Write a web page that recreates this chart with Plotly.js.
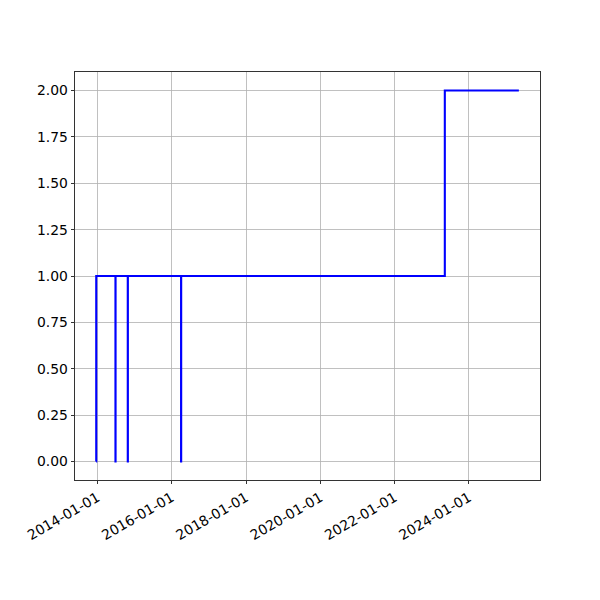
<!DOCTYPE html>
<html>
<head>
<meta charset="utf-8">
<script src="https://cdn.plot.ly/plotly-3.0.1.min.js"></script>
<style>html,body{margin:0;padding:0;background:#fff}#chart{width:600px;height:600px}</style>
</head>
<body>
<div id="chart"></div>
<script>
// Step series (value held until next date)
const dates = [
  '2013-12-19', '2013-12-20',
  '2014-06-27', '2014-06-28',
  '2014-10-26', '2014-10-27',
  '2016-04-02', '2016-04-03',
  '2023-05-09',
  '2025-05-06'
];
const values = [0, 1, 0, 1, 0, 1, 0, 1, 2, 2];
const xTickVals = ['2014-01-01','2016-01-01','2018-01-01','2020-01-01','2022-01-01','2024-01-01'];
const yTickVals = [0, 0.25, 0.5, 0.75, 1, 1.25, 1.5, 1.75, 2];

const trace = {
  x: dates, y: values, type: 'scatter', mode: 'lines',
  line: {shape: 'hv', color: '#0000ff', width: 2.1},
  hoverinfo: 'skip'
};

// 5% padding like matplotlib
const t0 = new Date(dates[0]).getTime(), t1 = new Date(dates[dates.length-1]).getTime();
const pad = (t1 - t0) * 0.05;
const fmt = t => new Date(t).toISOString().slice(0,19).replace('T',' ');

const font = {family: 'DejaVu Sans', size: 13.9, color: '#000'};
const layout = {
  width: 600, height: 600,
  margin: {l: 75, r: 60, t: 72, b: 120},
  paper_bgcolor: '#fff', plot_bgcolor: '#fff',
  showlegend: false,
  font: font,
  xaxis: {
    type: 'date', range: [fmt(t0 - pad), fmt(t1 + pad)],
    tickvals: xTickVals, ticktext: xTickVals,
    tickangle: -30, ticks: 'outside', ticklen: 3.5, tickcolor: '#000', tickwidth: 0.8,
    showgrid: true, gridcolor: '#b0b0b0', gridwidth: 0.8,
    showline: true, linecolor: '#000', linewidth: 0.8, mirror: true,
    zeroline: false, tickfont: font
  },
  yaxis: {
    range: [-0.1, 2.1],
    tickvals: yTickVals, ticktext: yTickVals.map(v => v.toFixed(2)),
    ticks: 'outside', ticklen: 3.5, tickcolor: '#000', tickwidth: 0.8,
    showgrid: true, gridcolor: '#b0b0b0', gridwidth: 0.8,
    showline: true, linecolor: '#000', linewidth: 0.8, mirror: true,
    zeroline: false, tickfont: font
  }
};
Plotly.newPlot('chart', [trace], layout, {staticPlot: true, displayModeBar: false});
</script>
</body>
</html>
